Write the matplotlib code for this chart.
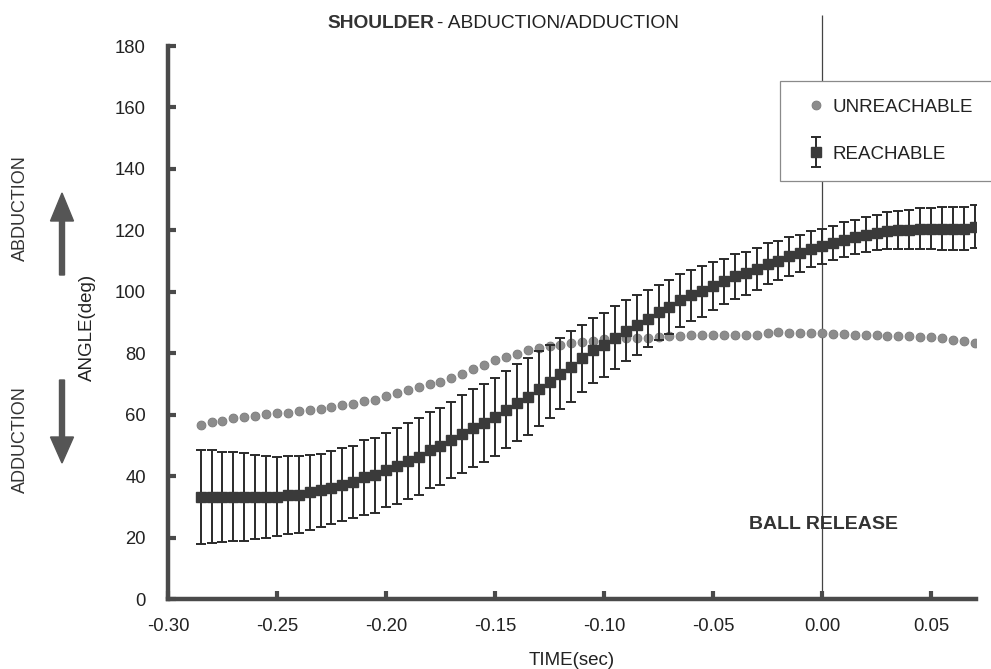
import matplotlib
matplotlib.use("Agg")
import matplotlib.pyplot as plt
import numpy as np
from matplotlib.patches import FancyArrow, Rectangle
from matplotlib.legend_handler import HandlerErrorbar

plt.rcParams['font.family'] = ['Liberation Sans', 'DejaVu Sans']
plt.rcParams['axes.unicode_minus'] = False

# time samples (sec), 0 = ball release
time = np.round(np.arange(-0.285, 0.0701, 0.005), 3)

# reachable: mean angle (deg) and SD
reach_mean = [33.3, 33.3, 33.3, 33.3, 33.3, 33.3, 33.3, 33.3, 33.9, 34.0,
              34.7, 35.4, 36.3, 37.2, 38.1, 39.6, 40.3, 42.0, 43.4, 45.0,
              46.3, 48.5, 49.7, 51.8, 53.8, 55.8, 57.4, 59.3, 61.6, 63.9,
              65.9, 68.5, 70.8, 73.4, 75.6, 78.3, 80.9, 82.8, 85.1, 87.4,
              89.2, 91.3, 93.3, 95.2, 97.2, 98.8, 100.1, 102.0, 103.4, 105.0,
              106.1, 107.5, 109.2, 110.1, 111.5, 112.6, 113.9, 114.8, 115.9, 117.0,
              117.8, 118.6, 119.3, 119.9, 120.2, 120.2, 120.6, 120.6, 120.6, 120.6,
              120.6, 121.1]
reach_sd = [15.3, 15.1, 14.7, 14.5, 14.3, 13.7, 13.4, 12.9, 12.6, 12.4,
            12.2, 11.9, 12.0, 11.9, 11.7, 12.1, 12.2, 12.1, 12.4, 12.3,
            12.6, 12.4, 12.5, 12.4, 12.7, 12.7, 12.7, 12.8, 12.6, 12.6,
            12.6, 12.2, 11.8, 11.5, 11.5, 10.9, 10.6, 10.4, 10.2, 9.9,
            9.8, 9.2, 8.9, 8.8, 8.5, 8.2, 8.2, 7.8, 7.4, 7.2,
            7.0, 6.8, 6.6, 6.4, 6.2, 6.0, 5.8, 5.7, 5.6, 5.6,
            5.6, 5.7, 5.8, 6.0, 6.2, 6.4, 6.6, 6.8, 6.9, 7.0,
            7.0, 7.0]

# unreachable: mean angle (deg)
unreach_mean = [56.8, 57.7, 58.1, 58.8, 59.3, 59.7, 60.1, 60.4, 60.6, 61.1,
                61.5, 62.0, 62.4, 63.0, 63.5, 64.4, 64.9, 66.0, 66.9, 67.9,
                69.0, 70.0, 70.8, 72.0, 73.3, 75.0, 76.3, 77.9, 78.7, 79.8,
                81.0, 81.7, 82.3, 82.8, 83.2, 83.7, 84.1, 84.7, 85.0, 85.0,
                85.0, 85.0, 85.2, 85.5, 85.5, 85.8, 85.8, 85.8, 85.8, 86.1,
                86.1, 86.1, 86.6, 86.8, 86.6, 86.6, 86.6, 86.6, 86.4, 86.4,
                86.1, 86.1, 85.9, 85.5, 85.5, 85.5, 85.2, 85.2, 85.0, 84.4,
                84.1, 83.2]

xticks = [-0.30, -0.25, -0.20, -0.15, -0.10, -0.05, 0.00, 0.05]
yticks = list(range(0, 181, 20))

fig = plt.figure(figsize=(9.91, 6.69), dpi=100)
ax = fig.add_axes([0.1695, 0.1046, 0.8153, 0.8266])

axis_col = '#4a4a4a'

# ball release line
ax.vlines(0, 0, 190, color='#444444', lw=0.9, clip_on=False, zorder=1)

dots, = ax.plot(time, unreach_mean, 'o', ms=6.4, color='#8c8c8c',
                mec='#7a7a7a', mew=0.6, zorder=2, label='UNREACHABLE')
eb = ax.errorbar(time, reach_mean, yerr=reach_sd, fmt='s', ms=7,
                 color='#3a3a3a', ecolor='#2a2a2a', elinewidth=1.4,
                 capsize=3.8, capthick=1.4, zorder=3, label='REACHABLE')

ax.set_xlim(-0.30, 0.0706)
ax.set_ylim(0, 180)
ax.set_xticks(xticks)
ax.set_xticklabels(['%.2f' % v for v in xticks])
ax.set_yticks(yticks)

for side in ['top', 'right']:
    ax.spines[side].set_visible(False)
for side in ['left', 'bottom']:
    ax.spines[side].set_linewidth(3.2)
    ax.spines[side].set_color(axis_col)
ax.tick_params(axis='both', direction='in', length=6, width=3,
               color=axis_col, labelsize=13.3, labelcolor='#222222')
ax.tick_params(axis='y', pad=16)
ax.tick_params(axis='x', pad=14)

ax.set_xlabel('TIME(sec)', fontsize=13.5, color='#222222', labelpad=12)

ax.text(0.0009, 24.2, 'BALL RELEASE', ha='center', va='center',
        fontsize=14, fontweight='bold', color='#333333')

# title: bold part + plain part
fig.text(434 / 991, 1 - 28 / 669, 'SHOULDER', ha='right', va='baseline',
         fontsize=13.8, fontweight='bold', color='#333333')
fig.text(437 / 991, 1 - 28 / 669, '- ABDUCTION/ADDUCTION', ha='left',
         va='baseline', fontsize=13.8, color='#222222')

# y-axis labels and direction arrows
fig.text(87 / 991, 1 - 327 / 669, 'ANGLE(deg)', rotation=90, ha='center',
         va='center', fontsize=13.5, color='#222222')
fig.text(20 / 991, 1 - 208 / 669, 'ABDUCTION', rotation=90, ha='center',
         va='center', fontsize=13, color='#333333')
fig.text(20 / 991, 1 - 440 / 669, 'ADDUCTION', rotation=90, ha='center',
         va='center', fontsize=13, color='#333333')
fig.add_artist(FancyArrow(62 / 991, 1 - 275 / 669, 0, (275 - 193) / 669,
                          width=5 / 991, head_width=23 / 991,
                          head_length=28 / 669, length_includes_head=True,
                          color='#555555', transform=fig.transFigure))
fig.add_artist(FancyArrow(62 / 991, 1 - 380 / 669, 0, -(463 - 380) / 669,
                          width=5 / 991, head_width=23 / 991,
                          head_length=26 / 669, length_includes_head=True,
                          color='#555555', transform=fig.transFigure))

# legend box (white, covers the release line, runs off the right edge)
ax.add_patch(Rectangle((780 / 991, 1 - 181 / 669), 260 / 991, 100 / 669,
                       fc='white', ec='#8a8a8a', lw=0.9, clip_on=False,
                       transform=fig.transFigure, zorder=4))
leg = ax.legend(handles=[dots, eb], loc='upper left',
                bbox_to_anchor=(806.6 / 991, 1 - 98.5 / 669),
                bbox_transform=fig.transFigure, frameon=False,
                borderpad=0, borderaxespad=0, handlelength=1.0,
                handletextpad=0.4, labelspacing=1.6, fontsize=13.5,
                handler_map={type(eb): HandlerErrorbar(yerr_size=0.8)})
leg.set_zorder(5)
for t in leg.get_texts():
    t.set_color('#222222')

fig.savefig('out.png', dpi=100)
